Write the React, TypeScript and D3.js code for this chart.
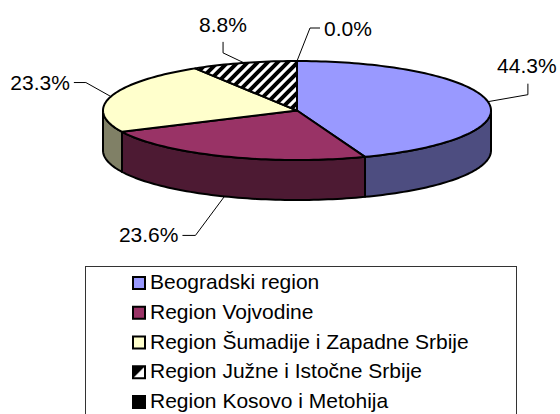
import React, {useEffect, useRef} from "react";
import * as d3 from "d3";

const regions = [
  "Beogradski region",
  "Region Vojvodine",
  "Region Šumadije i Zapadne Srbije",
  "Region Južne i Istočne Srbije",
  "Region Kosovo i Metohija",
];
const shares = [44.3, 23.6, 23.3, 8.8, 0.0];
const topColors = ["#9999FF", "#993366", "#FFFFCC", "url(#hatch)", "#000000"];
const sideColors = ["#4D4D80", "#4D1A33", "#808066", "url(#hatch)", "#000000"];
const legendColors = ["#9999FF", "#993366", "#FFFFCC", "url(#hatchSmall)", "#000000"];

// leader line layout, offsets from the anchor on the pie edge
const leaders = [
  {elbow: [40, -7], end: [40, -18], text: [39, -29], anchor: "middle"},
  {elbow: [-29, 39], end: [-42, 39], text: [-46, 46], anchor: "end"},
  {elbow: [-25, -14], end: [-37, -14], text: [-41, -7], anchor: "end"},
  {elbow: [-21, -10], end: [-21, -21], text: [-21, -31], anchor: "middle"},
  {elbow: [13, -33], end: [23, -33], text: [27, -25.5], anchor: "start"},
];

export default function App() {
  const ref = useRef<SVGSVGElement>(null);
  const width = 560;
  const height = 414;
  const cx = 297, cy = 110.5, rx = 194, ry = 49.5, depth = 40;
  const font = "'Liberation Sans', Arial, sans-serif";

  useEffect(() => {
    const svg = d3.select(ref.current);
    svg.selectAll("*").remove();

    const defs = svg.append("defs");
    const hatch = defs.append("pattern")
      .attr("id", "hatch")
      .attr("patternUnits", "userSpaceOnUse")
      .attr("width", 10).attr("height", 10);
    hatch.append("rect").attr("width", 10).attr("height", 10).attr("fill", "#fff");
    hatch.append("path")
      .attr("d", "M-5,5 L5,-5 M0,10 L10,0 M5,15 L15,5")
      .attr("stroke", "#000").attr("stroke-width", 4);
    const hs = defs.append("pattern")
      .attr("id", "hatchSmall")
      .attr("patternUnits", "objectBoundingBox")
      .attr("width", 1).attr("height", 1);
    hs.append("rect").attr("width", 12).attr("height", 12).attr("fill", "#fff");
    hs.append("path").attr("d", "M0,0 L12,0 L0,12 Z").attr("fill", "#000");

    const pie = d3.pie<number>().sort(null).value(d => d)
      .startAngle(0).endAngle(2 * Math.PI);
    const arcs = pie(shares);

    const pt = (a: number, dy = 0): [number, number] =>
      [cx + rx * Math.sin(a), cy - ry * Math.cos(a) + dy];
    const arcPts = (a0: number, a1: number, dy = 0) => {
      const n = Math.max(2, Math.ceil(Math.abs(a1 - a0) * 40));
      return d3.range(n + 1).map(i => pt(a0 + (a1 - a0) * i / n, dy));
    };
    const line = d3.line().curve(d3.curveLinearClosed);

    const g = svg.append("g");

    // visible outer wall: front half of the ellipse
    arcs.forEach((d, i) => {
      const s = Math.max(d.startAngle, Math.PI / 2);
      const e = Math.min(d.endAngle, 3 * Math.PI / 2);
      if (e <= s) return;
      g.append("path")
        .attr("d", line(arcPts(s, e).concat(arcPts(e, s, depth))))
        .attr("fill", sideColors[i])
        .attr("stroke", "#000").attr("stroke-width", 2)
        .attr("stroke-linejoin", "round");
    });

    // top faces
    arcs.forEach((d, i) => {
      const pts: [number, number][] = [[cx, cy], ...arcPts(d.startAngle, d.endAngle)];
      g.append("path")
        .attr("d", line(pts))
        .attr("fill", topColors[i])
        .attr("stroke", "#000").attr("stroke-width", 2)
        .attr("stroke-linejoin", "round");
    });

    // labels with leader lines
    const lab = svg.append("g");
    arcs.forEach((d, i) => {
      const mid = (d.startAngle + d.endAngle) / 2;
      const [ax, ay] = pt(mid, Math.cos(mid) < 0 ? depth : 0);
      const L = leaders[i];
      lab.append("polyline")
        .attr("points", [[ax, ay], [ax + L.elbow[0], ay + L.elbow[1]], [ax + L.end[0], ay + L.end[1]]]
          .map(p => p.join(",")).join(" "))
        .attr("fill", "none").attr("stroke", "#000").attr("stroke-width", 1);
      lab.append("text")
        .attr("x", ax + L.text[0]).attr("y", ay + L.text[1])
        .attr("text-anchor", L.anchor)
        .attr("font-family", font).attr("font-size", 21)
        .text(d3.format(".1f")(shares[i]) + "%");
    });

    // legend
    const rowY = d3.scalePoint<string>().domain(regions).range([289, 408]);
    const legend = svg.append("g");
    legend.append("rect")
      .attr("x", 85.5).attr("y", 266.5).attr("width", 431).attr("height", 170)
      .attr("fill", "#fff").attr("stroke", "#333").attr("stroke-width", 1);
    regions.forEach((r, i) => {
      const y = rowY(r)!;
      legend.append("rect")
        .attr("x", 133).attr("y", y - 12).attr("width", 12).attr("height", 12)
        .attr("fill", legendColors[i]).attr("stroke", "#000").attr("stroke-width", 2);
      legend.append("text")
        .attr("x", 150).attr("y", y)
        .attr("font-family", font).attr("font-size", 21)
        .text(r);
    });
  }, []);

  return (
    <svg ref={ref} width={width} height={height}
      style={{position: "absolute", left: 0, top: 0, background: "#fff"}}/>
  );
}
